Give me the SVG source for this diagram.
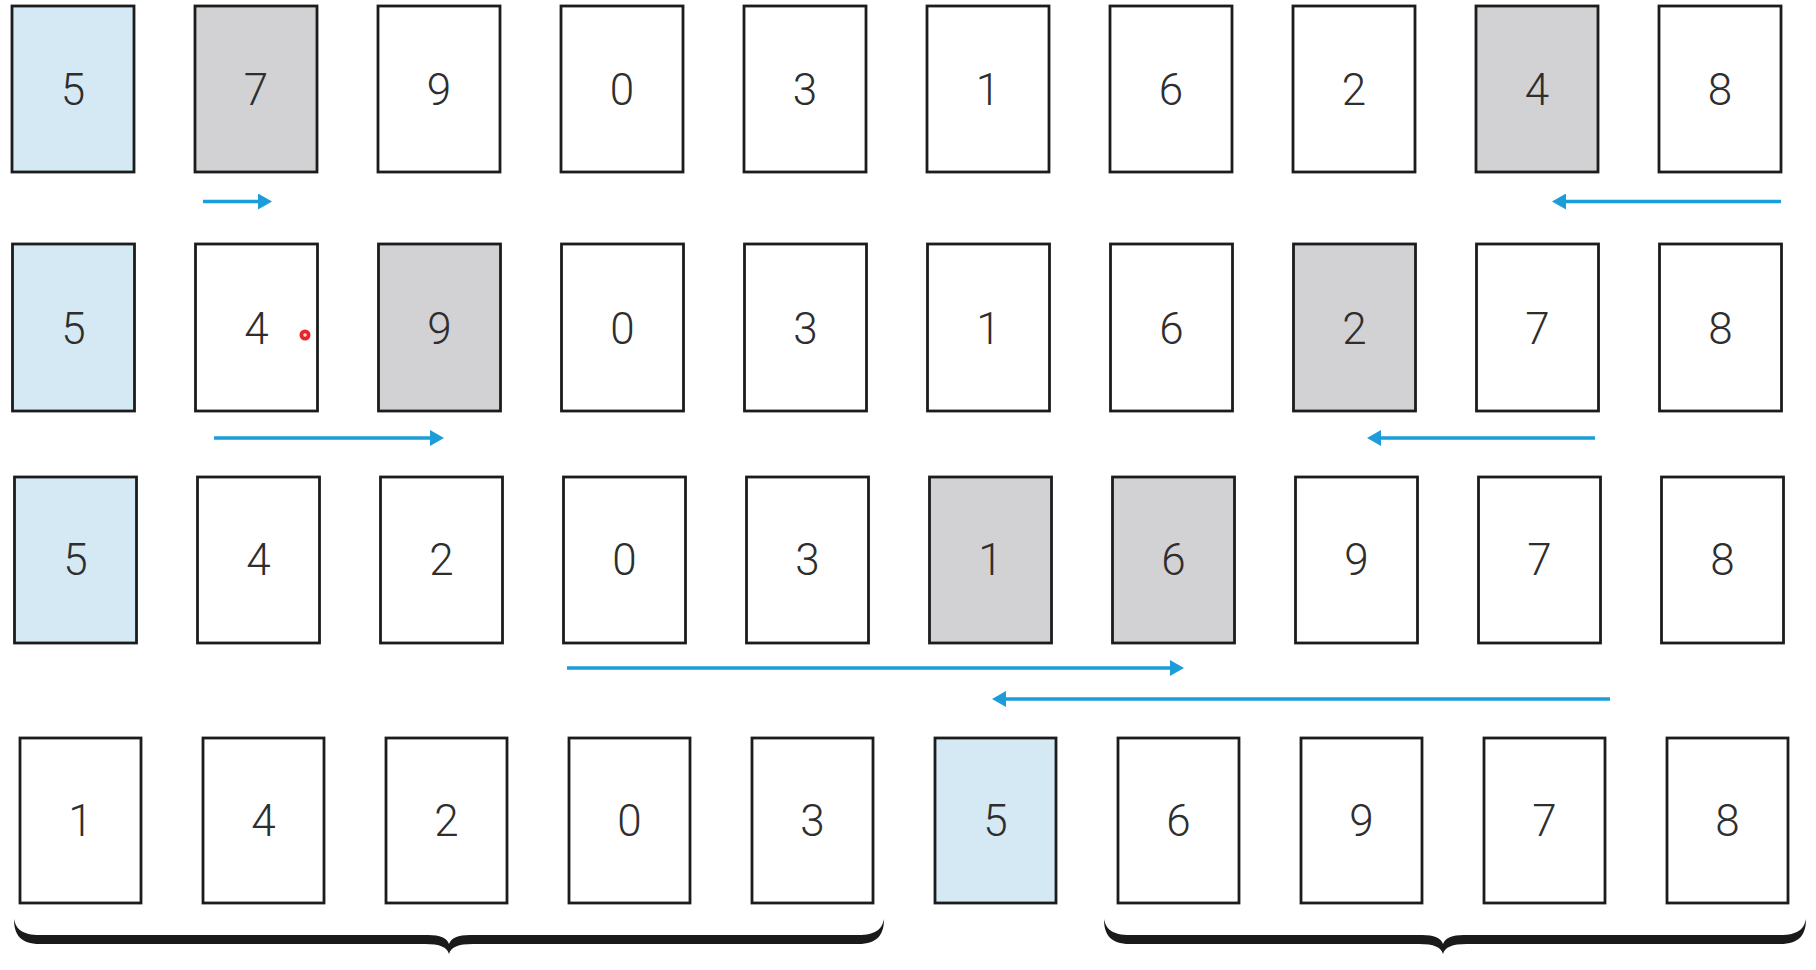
<svg xmlns="http://www.w3.org/2000/svg" width="1816" height="970" viewBox="0 0 1816 970">
<style>
.card{stroke:#1c1c1c;stroke-width:2.8;fill:#fff}
.blue{fill:#d5e9f5}
.gray{fill:#d2d2d4}
.num{font-family:Roboto,"Liberation Sans",Arial,sans-serif;font-weight:300;font-size:44px;fill:#2e2e2e;text-anchor:middle}
.arr{stroke:#1a9dd8;stroke-width:3.5;fill:none;marker-end:url(#ah)}
.brace{fill:#1a1a1a}
</style>
<defs>
<marker id="ah" viewBox="0 0 14 16" refX="3" refY="8" markerWidth="14" markerHeight="16" markerUnits="userSpaceOnUse" orient="auto">
<path d="M0,0 L14,8 L0,16 Z" fill="#1a9dd8"/>
</marker>
</defs>
<rect width="1816" height="970" fill="#fff"/>

<g id="row1">
<g id="r1c1"><rect class="card blue" x="12" y="6" width="122" height="166"/><text class="num" x="73" y="105">5</text></g>
<g id="r1c2"><rect class="card gray" x="195" y="6" width="122" height="166"/><text class="num" x="256" y="105">7</text></g>
<g id="r1c3"><rect class="card" x="378" y="6" width="122" height="166"/><text class="num" x="439" y="105">9</text></g>
<g id="r1c4"><rect class="card" x="561" y="6" width="122" height="166"/><text class="num" x="622" y="105">0</text></g>
<g id="r1c5"><rect class="card" x="744" y="6" width="122" height="166"/><text class="num" x="805" y="105">3</text></g>
<g id="r1c6"><rect class="card" x="927" y="6" width="122" height="166"/><text class="num" x="988" y="105">1</text></g>
<g id="r1c7"><rect class="card" x="1110" y="6" width="122" height="166"/><text class="num" x="1171" y="105">6</text></g>
<g id="r1c8"><rect class="card" x="1293" y="6" width="122" height="166"/><text class="num" x="1354" y="105">2</text></g>
<g id="r1c9"><rect class="card gray" x="1476" y="6" width="122" height="166"/><text class="num" x="1537" y="105">4</text></g>
<g id="r1c10"><rect class="card" x="1659" y="6" width="122" height="166"/><text class="num" x="1720" y="105">8</text></g>
</g>

<g id="row2">
<g id="r2c1"><rect class="card blue" x="12.5" y="244" width="122" height="167"/><text class="num" x="73.5" y="344">5</text></g>
<g id="r2c2"><rect class="card" x="195.5" y="244" width="122" height="167"/><text class="num" x="256.5" y="344">4</text></g>
<g id="r2c3"><rect class="card gray" x="378.5" y="244" width="122" height="167"/><text class="num" x="439.5" y="344">9</text></g>
<g id="r2c4"><rect class="card" x="561.5" y="244" width="122" height="167"/><text class="num" x="622.5" y="344">0</text></g>
<g id="r2c5"><rect class="card" x="744.5" y="244" width="122" height="167"/><text class="num" x="805.5" y="344">3</text></g>
<g id="r2c6"><rect class="card" x="927.5" y="244" width="122" height="167"/><text class="num" x="988.5" y="344">1</text></g>
<g id="r2c7"><rect class="card" x="1110.5" y="244" width="122" height="167"/><text class="num" x="1171.5" y="344">6</text></g>
<g id="r2c8"><rect class="card gray" x="1293.5" y="244" width="122" height="167"/><text class="num" x="1354.5" y="344">2</text></g>
<g id="r2c9"><rect class="card" x="1476.5" y="244" width="122" height="167"/><text class="num" x="1537.5" y="344">7</text></g>
<g id="r2c10"><rect class="card" x="1659.5" y="244" width="122" height="167"/><text class="num" x="1720.5" y="344">8</text></g>
</g>

<g id="row3">
<g id="r3c1"><rect class="card blue" x="14.5" y="477" width="122" height="166"/><text class="num" x="75.5" y="575">5</text></g>
<g id="r3c2"><rect class="card" x="197.5" y="477" width="122" height="166"/><text class="num" x="258.5" y="575">4</text></g>
<g id="r3c3"><rect class="card" x="380.5" y="477" width="122" height="166"/><text class="num" x="441.5" y="575">2</text></g>
<g id="r3c4"><rect class="card" x="563.5" y="477" width="122" height="166"/><text class="num" x="624.5" y="575">0</text></g>
<g id="r3c5"><rect class="card" x="746.5" y="477" width="122" height="166"/><text class="num" x="807.5" y="575">3</text></g>
<g id="r3c6"><rect class="card gray" x="929.5" y="477" width="122" height="166"/><text class="num" x="990.5" y="575">1</text></g>
<g id="r3c7"><rect class="card gray" x="1112.5" y="477" width="122" height="166"/><text class="num" x="1173.5" y="575">6</text></g>
<g id="r3c8"><rect class="card" x="1295.5" y="477" width="122" height="166"/><text class="num" x="1356.5" y="575">9</text></g>
<g id="r3c9"><rect class="card" x="1478.5" y="477" width="122" height="166"/><text class="num" x="1539.5" y="575">7</text></g>
<g id="r3c10"><rect class="card" x="1661.5" y="477" width="122" height="166"/><text class="num" x="1722.5" y="575">8</text></g>
</g>

<g id="row4">
<g id="r4c1"><rect class="card" x="20" y="738" width="121" height="165"/><text class="num" x="80.5" y="836">1</text></g>
<g id="r4c2"><rect class="card" x="203" y="738" width="121" height="165"/><text class="num" x="263.5" y="836">4</text></g>
<g id="r4c3"><rect class="card" x="386" y="738" width="121" height="165"/><text class="num" x="446.5" y="836">2</text></g>
<g id="r4c4"><rect class="card" x="569" y="738" width="121" height="165"/><text class="num" x="629.5" y="836">0</text></g>
<g id="r4c5"><rect class="card" x="752" y="738" width="121" height="165"/><text class="num" x="812.5" y="836">3</text></g>
<g id="r4c6"><rect class="card blue" x="935" y="738" width="121" height="165"/><text class="num" x="995.5" y="836">5</text></g>
<g id="r4c7"><rect class="card" x="1118" y="738" width="121" height="165"/><text class="num" x="1178.5" y="836">6</text></g>
<g id="r4c8"><rect class="card" x="1301" y="738" width="121" height="165"/><text class="num" x="1361.5" y="836">9</text></g>
<g id="r4c9"><rect class="card" x="1484" y="738" width="121" height="165"/><text class="num" x="1544.5" y="836">7</text></g>
<g id="r4c10"><rect class="card" x="1667" y="738" width="121" height="165"/><text class="num" x="1727.5" y="836">8</text></g>
</g>

<g id="connectors">
<line class="arr" x1="203" y1="201.5" x2="261" y2="201.5"/>
<line class="arr" x1="1781" y1="201.5" x2="1563" y2="201.5"/>
<line class="arr" x1="214" y1="438" x2="433" y2="438"/>
<line class="arr" x1="1595" y1="438" x2="1378" y2="438"/>
<line class="arr" x1="567" y1="668" x2="1173" y2="668"/>
<line class="arr" x1="1610" y1="699" x2="1003" y2="699"/>
</g>

<g id="braces">
<path class="brace" d="M14,919 C14,934 20,944 40,944 L425,944 C440,944 447,947 449,954 C451,947 458,944 473,944 L858,944 C878,944 884,934 884,919 C882,929 876,935 858,935 L470,935 C458,935 451,938 449,944 C447,938 440,935 428,935 L40,935 C22,935 16,929 14,919 Z"/>
<path class="brace" d="M1104,919 C1104,934 1110,944 1130,944 L1419,944 C1434,944 1441,947 1443,954 C1445,947 1452,944 1467,944 L1780,944 C1800,944 1806,934 1806,919 C1804,929 1798,935 1780,935 L1464,935 C1452,935 1445,938 1443,944 C1441,938 1434,935 1422,935 L1130,935 C1112,935 1106,929 1104,919 Z"/>
</g>

<g id="cursor-dot">
<circle cx="305" cy="335" r="5.5" fill="#e8262a"/>
<circle cx="305" cy="335" r="1.8" fill="#fbd3d3"/>
</g>
</svg>
